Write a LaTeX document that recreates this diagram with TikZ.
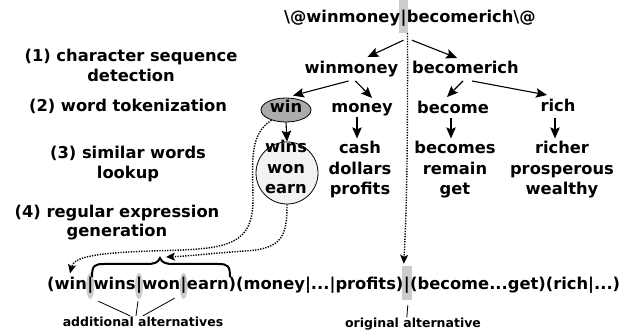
\documentclass[tikz,border=0pt]{standalone}
\usepackage{fontspec}
\setmainfont{DejaVu Sans}
\usetikzlibrary{arrows.meta,calc,shapes.geometric,backgrounds}
\definecolor{barg}{HTML}{CCCCCC}
\definecolor{wing}{HTML}{ABABAB}
\definecolor{circg}{HTML}{F2F2F2}
\tikzset{
  lbl/.style={font=\fontsize{16.3}{20.5}\selectfont\bfseries, inner sep=0pt, anchor=base},
  piece/.style={lbl, anchor=base west},
  smalllbl/.style={font=\fontsize{12.5}{15}\selectfont\bfseries, inner sep=0pt, anchor=base},
  arr/.style={-{Stealth[length=11pt,width=9.5pt,inset=2pt]}, line width=1.1pt},
  dotarr/.style={dash pattern=on 1.3pt off 1.3pt, line width=1.4pt, -{Stealth[length=9pt,width=8pt,inset=2pt]}},
  pointer/.style={line width=0.8pt},
}
\begin{document}
\begin{tikzpicture}[x=1pt,y=-1pt]
\useasboundingbox (0,0) rectangle (641,336);

% top string
\node[lbl] (tbar) at (403.5,23) {|};
\node[lbl,anchor=base east] (tl) at (tbar.base west) {\textbackslash @winmoney};
\node[lbl,anchor=base west] (tr) at (tbar.base east) {becomerich\textbackslash @};
\begin{scope}[on background layer]
  \node[fill=barg, minimum width=9pt, minimum height=33pt, inner sep=0pt] (tb) at (403.5,16.5) {};
\end{scope}

% left labels
\node[lbl] (s1a) at (131,62) {(1) character sequence};
\node[lbl] (s1b) at (131,82) {detection};
\node[lbl] (s2) at (128,112) {(2) word tokenization};
\node[lbl] (s3a) at (128,159) {(3) similar words};
\node[lbl] (s3b) at (128,179) {lookup};
\node[lbl] (s4a) at (117,218) {(4) regular expression};
\node[lbl] (s4b) at (117,237) {generation};

% tree
\node[lbl] (winmoney) at (351.5,74) {winmoney};
\node[lbl] (becomerich) at (465.5,74) {becomerich};
\node[ellipse, draw, line width=0.8pt, fill=wing, minimum width=50pt, minimum height=24pt,
      inner sep=0pt, font=\fontsize{16.3}{20.5}\selectfont\bfseries, text height=10pt, text depth=4pt] (win) at (286,110) {win};
\node[lbl] (money) at (362,113) {money};
\node[lbl] (become) at (453,114) {become};
\node[lbl] (rich) at (558,112) {rich};

\node[circle, draw, line width=0.8pt, fill=circg, minimum size=62pt, inner sep=0pt] (simw) at (287,173) {};
% base anchor of a multi-line node = baseline of its last line
\node[lbl, align=center] (simtxt) at (286,194) {wins\\won\\earn};
\node[lbl, align=center] (cash) at (360,195) {cash\\dollars\\profits};
\node[lbl, align=center] (becomes) at (455,195) {becomes\\remain\\get};
\node[lbl, align=center] (richer) at (562,195) {richer\\prosperous\\wealthy};

\draw[arr] ($(tb.south)+(0,7)$) -- ($(winmoney.base)+(16,-17)$);
\draw[arr] ($(tb.south)+(8.5,7)$) -- ($(becomerich.base)+(-8.5,-16)$);
\draw[arr] ($(winmoney.base)+(-3,7)$) -- ($(win.north)+(7,-2)$);
\draw[arr] ($(winmoney.base)+(4,7)$) -- ($(money.base)+(10,-15)$);
\draw[arr] ($(becomerich.base)+(-2.5,7)$) -- ($(become.base)+(-6,-17)$);
\draw[arr] ($(becomerich.base)+(6.5,7)$) -- ($(rich.base)+(-11,-17)$);
\draw[arr] (win.south) -- (simw.north);
\draw[arr] ($(money.base)+(-5,4)$) -- ($(cash.north)+(-3,-3)$);
\draw[arr] ($(become.base)+(-2,4)$) -- ($(becomes.north)+(-4,-3)$);
\draw[arr] ($(rich.base)+(-3,6)$) -- ($(richer.north)+(-7,-3)$);

% regex
\node[piece] (r1) at (47,290) {(win};
\node[piece] (b1) at (r1.base east) {|};
\node[piece] (r2) at (b1.base east) {wins};
\node[piece] (b2) at (r2.base east) {|};
\node[piece] (r3) at (b2.base east) {won};
\node[piece] (b3) at (r3.base east) {|};
\node[piece] (r4) at (b3.base east) {earn)(money|...|profits)};
\node[piece] (b4) at (r4.base east) {|};
\node[piece] (r5) at (b4.base east) {(become...get)(rich|...)};
\begin{scope}[on background layer]
  \node[ellipse, fill=barg, minimum width=8pt, minimum height=26pt, inner sep=0pt] (e1) at ($(b1.base)+(0,-4)$) {};
  \node[ellipse, fill=barg, minimum width=8pt, minimum height=26pt, inner sep=0pt] (e2) at ($(b2.base)+(0,-4)$) {};
  \node[ellipse, fill=barg, minimum width=8pt, minimum height=26pt, inner sep=0pt] (e3) at ($(b3.base)+(0,-4)$) {};
  \node[fill=barg, minimum width=10pt, minimum height=34pt, inner sep=0pt] (ob) at ($(b4.base)+(0,-7)$) {};
\end{scope}

% brace
\draw[line width=2pt] (92,277) .. controls (92,266) and (94,264) .. (104,264) -- (146,264)
  .. controls (154,264) and (158,263) .. (160,258) .. controls (162,263) and (166,264) .. (174,264)
  -- (218,264) .. controls (228,264) and (230,266) .. (230,277);
\coordinate (btip) at (160,258);

% dotted connectors
\draw[dotarr] (win.215) .. controls (248,135) and (253,165) .. (253,200)
  .. controls (253,250) and (220,249) .. (150,251)
  .. controls (100,253) and (74,256) .. ($(r1.north)+(3,-4)$);
\draw[dotarr] (simw.south) .. controls (287,235) and (283,249) .. (245,251)
  .. controls (215,253) and (190,256) .. ($(btip)+(6,-1)$);
\draw[dotarr] ($(tb.south)+(4,0)$) .. controls (408,200) and (405,235) .. ($(ob.north)+(-3,-2)$);

% bottom labels
\node[smalllbl] (addl) at (143,327) {additional alternatives};
\node[smalllbl] (orig) at (413,328) {original alternative};
\draw[pointer] ($(e1.south)+(8,2)$) -- ($(addl.north)+(-13,-1.5)$);
\draw[pointer] ($(e2.south)+(-1,2)$) -- ($(addl.north)+(-7,-1.5)$);
\draw[pointer] ($(e3.south)+(-9,-1)$) -- ($(addl.north)+(0,-1.5)$);
\draw[pointer] ($(ob.south)+(1,5)$) -- ($(ob.south |- orig.north)+(0,-1)$);
\end{tikzpicture}
\end{document}
